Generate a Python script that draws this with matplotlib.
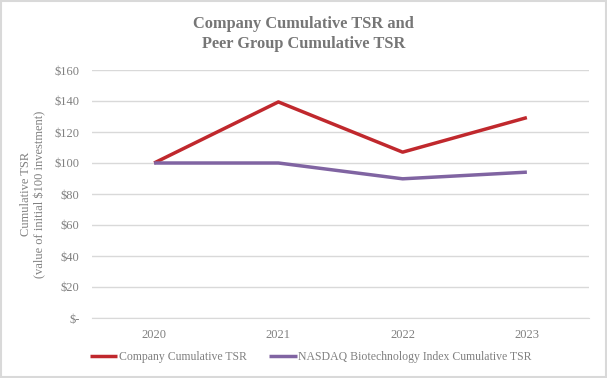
import matplotlib
matplotlib.use("Agg")
import matplotlib.pyplot as plt
from matplotlib.ticker import FuncFormatter
from matplotlib.patches import Rectangle

years = ["2020", "2021", "2022", "2023"]
company = [100, 139.4, 107, 129.3]
nasdaq = [100, 100, 89.8, 94.1]
yticks = [0, 20, 40, 60, 80, 100, 120, 140, 160]

plt.rcParams['font.family'] = ['Liberation Serif', 'DejaVu Serif']

fig = plt.figure(figsize=(6.07, 3.78), dpi=100)
fig.patches.append(Rectangle((0.0015, 0.002), 0.997, 0.995, transform=fig.transFigure,
                             fill=False, edgecolor='#d9d9d9', linewidth=1.5))
ax = fig.add_axes([92/607, 1-318/378, (589-92)/607, (318-70)/378])

x = list(range(len(years)))
ax.plot(x, company, color='#c0282d', linewidth=2.5, label='Company Cumulative TSR', solid_capstyle='butt')
ax.plot(x, nasdaq, color='#8064a2', linewidth=2.5, label='NASDAQ Biotechnology Index Cumulative TSR', solid_capstyle='butt')

ax.set_xlim(-0.5, 3.5)
ax.set_ylim(0, 160)
ax.set_yticks(yticks)
ax.yaxis.set_major_formatter(FuncFormatter(lambda v, p: "$-" if v == 0 else f"${int(v)}"))
ax.set_xticks(x)
ax.set_xticklabels(years)
ax.grid(axis='y', color='#d9d9d9', linewidth=1)
ax.set_axisbelow(True)
for s in ['top', 'right', 'left']:
    ax.spines[s].set_visible(False)
ax.spines['bottom'].set_color('#d9d9d9')
ax.tick_params(axis='both', length=0, colors='#808080', labelsize=9)
ax.tick_params(axis='y', pad=9)
ax.tick_params(axis='x', pad=8)

fig.text(33/607, 1-194/378, "Cumulative TSR\n(value of initial $100 investment)", rotation=90,
         ha='center', va='center', fontsize=9, color='#808080', linespacing=1.25)

fig.text(0.5, 1-34/378, "Company Cumulative TSR and\nPeer Group Cumulative TSR", ha='center', va='center',
         fontsize=11.8, fontweight='bold', color='#767676', linespacing=1.3)

leg = fig.legend(loc='center', bbox_to_anchor=(311/607, 1-357/378), ncol=2, frameon=False,
                 fontsize=8.5, handlelength=2.3, handletextpad=0.15, columnspacing=1.9)
for t in leg.get_texts():
    t.set_color('#808080')

fig.savefig("out.png", dpi=100)
